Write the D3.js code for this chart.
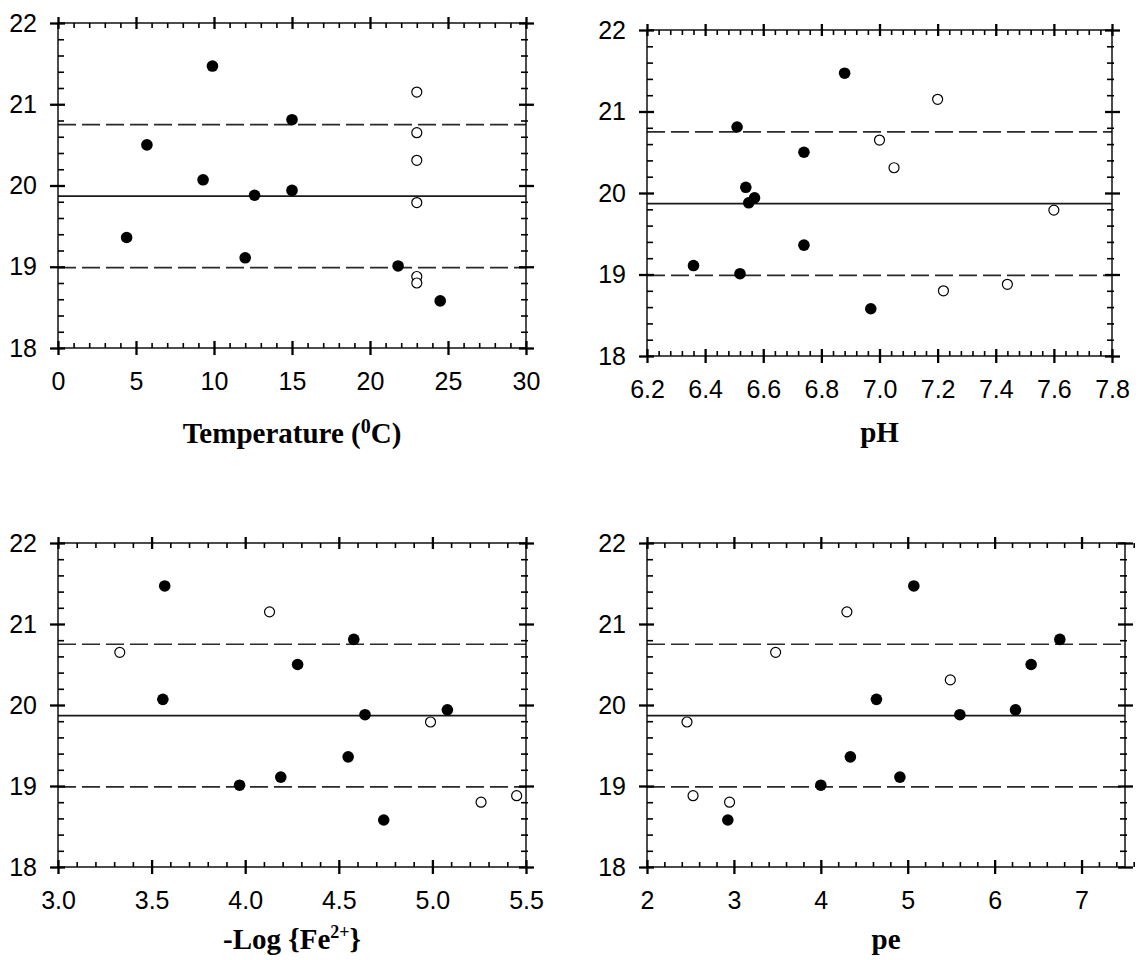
<!DOCTYPE html>
<html><head><meta charset="utf-8">
<script src="https://cdn.jsdelivr.net/npm/d3@7"></script>
<style>
  body { margin: 0; background: #fff; }
  .ticklbl text { font-family: "Liberation Sans", Arial, sans-serif; font-size: 25px; fill: #000; }
  .title { font-family: "Liberation Serif", "Times New Roman", serif; font-weight: bold; font-size: 29px; fill: #000; }
</style>
</head><body>
<svg id="chart" width="1142" height="960"></svg>
<script>
// Response values shared by all four panels (filled and open sample groups)
const filledY = [21.47, 20.81, 20.50, 20.07, 19.88, 19.94, 19.36, 19.11, 19.01, 18.58];
const openY   = [21.15, 20.65, 20.31, 19.79, 18.88, 18.80];

// Explanatory variables, same sample order as above
const tempFilled = [9.9, 15.0, 5.7, 9.3, 12.6, 15.0, 4.4, 12.0, 21.8, 24.5];
const tempOpen   = [23.0, 23.0, 23.0, 23.0, 23.0, 23.0];
const phFilled   = [6.88, 6.51, 6.74, 6.54, 6.55, 6.57, 6.74, 6.36, 6.52, 6.97];
const phOpen     = [7.20, 7.00, 7.05, 7.60, 7.44, 7.22];
const feFilled   = [3.57, 4.58, 4.28, 3.56, 4.64, 5.08, 4.55, 4.19, 3.97, 4.74];
const feOpen     = [4.13, 3.33, null, 4.99, 5.45, 5.26];
const peFilled   = [5.07, 6.75, 6.42, 4.64, 5.60, 6.24, 4.34, 4.91, 4.00, 2.93];
const peOpen     = [4.30, 3.48, 5.49, 2.46, 2.53, 2.95];

// Mean and bounds
const meanLine  = 19.87;
const bandLines = [20.75, 18.99];

// Tick labels
const yTicks    = [18, 19, 20, 21, 22];
const tempTicks = [0, 5, 10, 15, 20, 25, 30];
const phTicks   = [6.2, 6.4, 6.6, 6.8, 7.0, 7.2, 7.4, 7.6, 7.8];
const feTicks   = [3.0, 3.5, 4.0, 4.5, 5.0, 5.5];
const peTicks   = [2, 3, 4, 5, 6, 7];

const panels = [
  { box: [58, 23, 526, 348], xDomain: [0, 30], ticks: tempTicks, step: 5, fmt: d3.format("d"),
    xs: [tempFilled, tempOpen], titleY: 443, title: "temp" },
  { box: [647, 30, 1112, 356], xDomain: [6.2, 7.8], ticks: phTicks, step: 0.2, fmt: d3.format(".1f"),
    xs: [phFilled, phOpen], titleY: 442, title: "ph" },
  { box: [58, 543, 526, 867], xDomain: [3.0, 5.5], ticks: feTicks, step: 0.5, fmt: d3.format(".1f"),
    xs: [feFilled, feOpen], titleY: 949, title: "fe" },
  { box: [647, 543, 1125, 867], xDomain: [2, 7.5], ticks: peTicks, step: 1, fmt: d3.format("d"),
    xs: [peFilled, peOpen], titleY: 949, title: "pe" }
];

const svg = d3.select("#chart");
svg.append("rect").attr("width", 1142).attr("height", 960).attr("fill", "#fff");

function minorValues(domain, step, majors) {
  const sub = step / 5;
  const n = Math.round((domain[1] - domain[0]) / sub);
  const vals = d3.range(0, n + 1).map(i => +(domain[0] + i * sub).toFixed(6));
  return vals.filter(v => !majors.some(m => Math.abs(m - v) < 1e-6));
}

function styleTicks(g, width) {
  g.select(".domain").remove();
  g.selectAll(".tick line").attr("stroke", "#000").attr("stroke-width", width);
}

panels.forEach(p => {
  const [x0, y0, x1, y1] = p.box;
  const x = d3.scaleLinear().domain(p.xDomain).range([x0, x1]);
  const y = d3.scaleLinear().domain([18, 22]).range([y1, y0]);
  const g = svg.append("g");

  // reference lines
  g.append("line").attr("x1", x0).attr("x2", x1)
    .attr("y1", y(meanLine)).attr("y2", y(meanLine))
    .attr("stroke", "#1a1a1a").attr("stroke-width", 1.7);
  g.selectAll("line.band").data(bandLines).join("line").attr("class", "band")
    .attr("x1", x0).attr("x2", x1).attr("y1", d => y(d)).attr("y2", d => y(d))
    .attr("stroke", "#2a2a2a").attr("stroke-width", 1.7).attr("stroke-dasharray", "18,6");

  // points
  const filled = filledY.map((v, i) => ({ x: p.xs[0][i], y: v })).filter(d => d.x != null);
  const open = openY.map((v, i) => ({ x: p.xs[1][i], y: v })).filter(d => d.x != null);
  g.selectAll("circle.open").data(open).join("circle").attr("class", "open")
    .attr("cx", d => x(d.x)).attr("cy", d => y(d.y)).attr("r", 5.0)
    .attr("fill", "#fff").attr("stroke", "#000").attr("stroke-width", 1.2);
  g.selectAll("circle.filled").data(filled).join("circle").attr("class", "filled")
    .attr("cx", d => x(d.x)).attr("cy", d => y(d.y)).attr("r", 5.8)
    .attr("fill", "#000");

  // frame
  g.append("rect").attr("x", x0).attr("y", y0).attr("width", x1 - x0).attr("height", y1 - y0)
    .attr("fill", "none").attr("stroke", "#000").attr("stroke-width", 1.4);

  const xMinor = minorValues(p.xDomain, p.step, p.ticks);
  const yMinor = minorValues([18, 22], 1, yTicks);

  // bottom axis
  const bOut = g.append("g").attr("class", "ticklbl").attr("transform", `translate(0,${y1})`)
    .call(d3.axisBottom(x).tickValues(p.ticks).tickSize(7).tickPadding(17).tickFormat(p.fmt));
  styleTicks(bOut, 2.3);
  const bIn = g.append("g").attr("transform", `translate(0,${y1})`)
    .call(d3.axisBottom(x).tickValues(p.ticks).tickSize(-7).tickFormat(""));
  styleTicks(bIn, 2.3);
  const bMin = g.append("g").attr("transform", `translate(0,${y1})`)
    .call(d3.axisBottom(x).tickValues(xMinor).tickSize(-5).tickFormat(""));
  styleTicks(bMin, 1.6);

  // top axis
  [[p.ticks, 6, 2.3], [p.ticks, -6, 2.3], [xMinor, -5, 1.6]].forEach(([vals, size, w]) => {
    const a = g.append("g").attr("transform", `translate(0,${y0})`)
      .call(d3.axisTop(x).tickValues(vals).tickSize(size).tickFormat(""));
    styleTicks(a, w);
  });

  // left axis
  const lOut = g.append("g").attr("class", "ticklbl").attr("transform", `translate(${x0},0)`)
    .call(d3.axisLeft(y).tickValues(yTicks).tickSize(8).tickPadding(13).tickFormat(d3.format("d")));
  styleTicks(lOut, 2.3);
  [[yTicks, -7, 2.3], [yMinor, -6, 1.6]].forEach(([vals, size, w]) => {
    const a = g.append("g").attr("transform", `translate(${x0},0)`)
      .call(d3.axisLeft(y).tickValues(vals).tickSize(size).tickFormat(""));
    styleTicks(a, w);
  });

  // right axis
  [[yTicks, 8, 2.3], [yTicks, -7, 2.3], [yMinor, -5, 1.6], [yMinor, 2, 1.6]].forEach(([vals, size, w]) => {
    const a = g.append("g").attr("transform", `translate(${x1},0)`)
      .call(d3.axisRight(y).tickValues(vals).tickSize(size).tickFormat(""));
    styleTicks(a, w);
  });

  // axis title
  const t = svg.append("text").attr("class", "title")
    .attr("x", (x0 + x1) / 2).attr("y", p.titleY).attr("text-anchor", "middle");
  if (p.title === "temp") {
    t.append("tspan").text("Temperature (");
    t.append("tspan").attr("font-size", "20px").attr("dy", -10).text("0");
    t.append("tspan").attr("dy", 10).text("C)");
  } else if (p.title === "ph") {
    t.text("pH");
  } else if (p.title === "fe") {
    t.append("tspan").text("-Log {Fe");
    t.append("tspan").attr("font-size", "18px").attr("dy", -11).text("2+");
    t.append("tspan").attr("dy", 11).text("}");
  } else {
    t.text("pe");
  }
});
</script>
</body></html>
